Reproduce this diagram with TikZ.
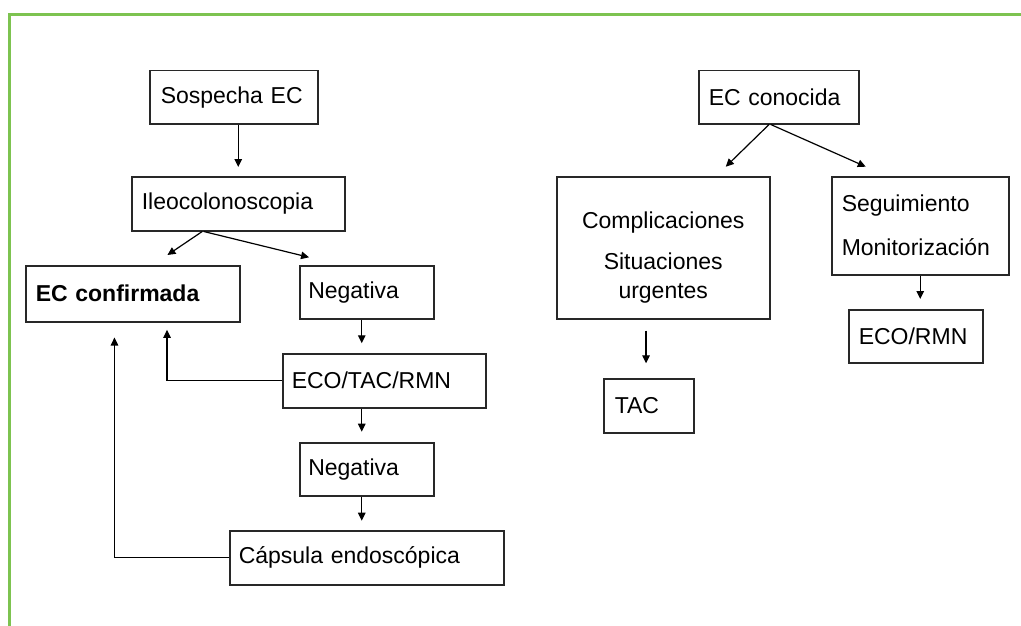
\documentclass[tikz,border=0pt]{standalone}
\usepackage{fontspec}
\setmainfont{Liberation Sans}
\usetikzlibrary{arrows.meta,calc}
\definecolor{frameg}{RGB}{125,195,80}
\definecolor{boxline}{RGB}{40,40,40}
\tikzset{
  bx/.style={draw=boxline, line width=1.5pt, font=\fontsize{23}{28}\selectfont, align=left, inner ysep=0pt, anchor=north west},
  arr/.style={line width=1.2pt, -{Triangle[length=8pt,width=7.5pt]}},
}
\begin{document}
\begin{tikzpicture}[x=1pt,y=-1pt]
\useasboundingbox (0,0) rectangle (1021,626);
\fill[white] (0,0) rectangle (1021,626);
% frame
\draw[frameg, line width=3pt] (9.5,626) -- (9.5,14.7) -- (1021,14.7);
% left tree
\node[bx, inner xsep=11pt, text width=146pt, minimum height=53pt] (sos) at (149,70) {Sospecha EC};
\node[bx, inner xsep=10pt, text width=193pt, minimum height=54pt] (ileo) at (131,176) {Ileocolonoscopia};
\node[bx, inner xsep=10pt, text width=194pt, minimum height=56pt, font=\fontsize{23}{28}\selectfont\bfseries] (ecc) at (25,265) {EC confirmada};
\node[bx, inner xsep=8.5pt, text width=117pt, minimum height=53pt] (neg1) at (299,265) {Negativa};
\node[bx, inner xsep=9pt, text width=185pt, minimum height=54pt] (eco) at (282,353) {ECO/TAC/RMN};
\node[bx, inner xsep=8.5pt, text width=117pt, minimum height=53pt] (neg2) at (299,442) {Negativa};
\node[bx, inner xsep=9pt, text width=256pt, minimum height=54pt] (cap) at (229,530) {Cápsula endoscópica};
% right tree
\node[bx, inner xsep=10pt, text width=140pt, minimum height=53pt] (ecn) at (698,70) {EC conocida};
\node[bx, inner xsep=0pt, text width=213pt, minimum height=142pt, align=center, font=\fontsize{23}{29}\selectfont, text height=36.8pt] (cmp) at (556,176) {Complicaciones\\[12pt]Situaciones\\urgentes};
\node[bx, inner xsep=10pt, text width=157pt, minimum height=98pt] (seg) at (831,176) {Seguimiento\\[16pt]Monitorización};
\node[bx, inner xsep=10pt, text width=114pt, minimum height=53pt] (ecormn) at (848,309) {ECO/RMN};
\node[bx, inner xsep=11pt, text width=68pt, minimum height=54pt] (tac) at (603,378) {TAC};
% connectors left
\draw[arr, shorten >=9pt] (ileo.north |- sos.south) -- (ileo.north);
\draw[arr] ([xshift=-36pt]ileo.south) -- ([xshift=34.7pt,yshift=10pt]ecc.north);
\draw[arr] ([xshift=-34.5pt]ileo.south) -- ([xshift=-57.7pt,yshift=7.7pt]neg1.north);
\draw[arr, shorten >=9.7pt] ([xshift=-5pt]neg1.south) -- ([xshift=-5pt]neg1.south |- eco.north);
\draw[arr, shorten >=10.3pt] ([xshift=-5pt]neg1.south |- eco.south) -- ([xshift=-5pt]neg1.south |- neg2.north);
\draw[arr, shorten >=9.3pt] ([xshift=-5pt]neg1.south |- neg2.south) -- ([xshift=-5pt]neg1.south |- cap.north);
\draw[arr] (eco.west) -| ([xshift=34.3pt,yshift=-7.3pt]ecc.south);
\draw[arr] (cap.west) -| ([xshift=-18.3pt,yshift=-15pt]ecc.south);
% connectors right
\draw[arr] ([xshift=-9.7pt]ecn.south) -- ([xshift=62.5pt,yshift=9.3pt]cmp.north);
\draw[arr] ([xshift=-8pt]ecn.south) -- ([xshift=-54.5pt,yshift=9.3pt]seg.north);
\draw[arr, shorten >=10pt] (seg.south) -- (seg.south |- ecormn.north);
\draw[arr, shorten >=14.7pt] ([xshift=-17.2pt,yshift=-11pt]cmp.south) -- ([xshift=-17.2pt]cmp.south |- tac.north);
\end{tikzpicture}
\end{document}
